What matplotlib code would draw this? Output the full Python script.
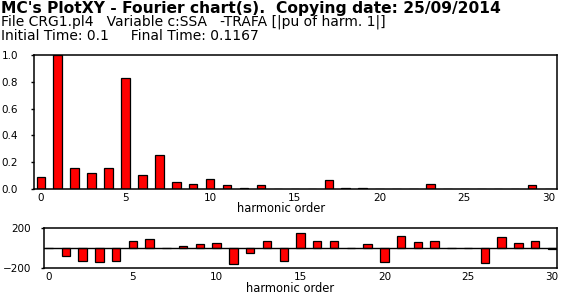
import matplotlib
matplotlib.use("Agg")
import matplotlib.pyplot as plt

# --------------------------------------------------
# Data (harmonic orders 0..30)
# --------------------------------------------------
harmonics = list(range(31))
amplitude = [0.087, 1.0, 0.154, 0.119, 0.154, 0.826, 0.102, 0.251, 0.052, 0.035,
             0.072, 0.027, 0.005, 0.027, 0.0, 0.0, 0.0, 0.065, 0.005, 0.004,
             0.0, 0.0, 0.0, 0.035, 0.0, 0.0, 0.0, 0.0, 0.0, 0.027, 0.0]
phase = [0, -80, -133, -140, -133, 67, 90, 0, 20, 40,
         50, -160, -50, 67, -133, 150, 70, 70, 0, 40,
         -140, 120, 60, 70, 0, 0, -150, 110, 50, 70, -10]

amp_ticks = [0.0, 0.2, 0.4, 0.6, 0.8, 1.0]
phase_ticks = [-200, 200]
x_ticks = [0, 5, 10, 15, 20, 25, 30]

title_line = "MC's PlotXY - Fourier chart(s).  Copying date: 25/09/2014"
file_line = "File CRG1.pl4   Variable c:SSA   -TRAFA [|pu of harm. 1|]"
time_line = "Initial Time: 0.1     Final Time: 0.1167"

plt.rcParams["font.family"] = ["DejaVu Sans"]

W, H = 567, 302
fig = plt.figure(figsize=(W / 100, H / 100), dpi=100)


def box(l, t, r, b):
    return [l / W, 1 - b / H, (r - l) / W, (b - t) / H]


BAR = dict(width=0.5, color="#ff0000", edgecolor="black", linewidth=0.9)

# --------------------------------------------------
# Amplitude chart
# --------------------------------------------------
ax1 = fig.add_axes(box(34, 55, 557, 189))
ax1.bar(harmonics, amplitude, **BAR)
ax1.set_xlim(-0.4, 30.47)
ax1.set_ylim(0, 1.0)
ax1.set_yticks(amp_ticks)
ax1.set_yticklabels([f"{v:.1f}" for v in amp_ticks])
ax1.set_xticks(x_ticks)
ax1.tick_params(axis="y", length=2.5, width=1, pad=9, labelsize=7.5)
ax1.tick_params(axis="x", length=0, pad=3, labelsize=7.5)
for s in ax1.spines.values():
    s.set_linewidth(1.1)

# --------------------------------------------------
# Phase chart
# --------------------------------------------------
ax2 = fig.add_axes(box(44, 228, 557, 268))
ax2.bar(harmonics, phase, **BAR)
ax2.axhline(0, color="black", linewidth=1)
ax2.set_xlim(-0.3, 30.3)
ax2.set_ylim(-200, 200)
ax2.set_yticks(phase_ticks)
ax2.set_xticks(x_ticks)
ax2.tick_params(axis="y", length=2.5, width=1, pad=7, labelsize=7.5)
ax2.tick_params(axis="x", length=0, pad=3, labelsize=7.5)
for s in ax2.spines.values():
    s.set_linewidth(1.1)

# axis labels placed like the original (right of centre)
fig.text(281 / W, 1 - 209 / H, "harmonic order", ha="center", va="center", fontsize=8.3)
fig.text(290 / W, 1 - 289 / H, "harmonic order", ha="center", va="center", fontsize=8.3)

# --------------------------------------------------
# Header
# --------------------------------------------------
fig.text(1 / W, 1 - 8 / H, title_line, ha="left", va="center",
         fontsize=11.2, fontweight="bold")
fig.text(1 / W, 1 - 22 / H, file_line, ha="left", va="center", fontsize=10)
fig.text(1 / W, 1 - 36 / H, time_line, ha="left", va="center", fontsize=10)

fig.savefig("out.png", dpi=100)
